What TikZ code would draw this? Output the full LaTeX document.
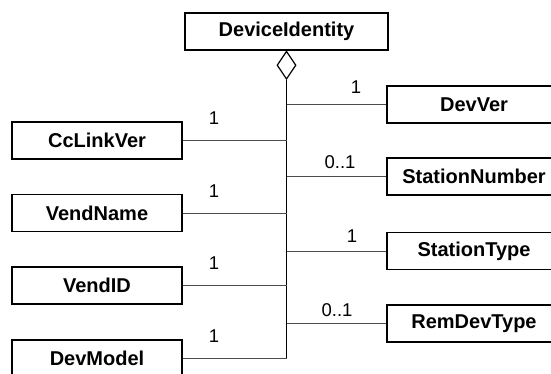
\documentclass[tikz,border=0pt]{standalone}
\usepackage{fontspec}
\setmainfont{Liberation Sans}
\usetikzlibrary{shapes.geometric}
\begin{document}
\begin{tikzpicture}[x=1pt,y=-1pt,
  cls/.style={draw, line width=1.2pt, minimum height=37pt, inner sep=0pt,
    font=\bfseries\fontsize{20}{20}\selectfont},
  lnk/.style={draw=black!70, line width=1pt},
  mult/.style={inner sep=0pt, font=\fontsize{18.5}{18.5}\selectfont}]
\useasboundingbox (0,0) rectangle (551,373);
\clip (0,0) rectangle (551,373);
\node[cls, minimum width=203pt] (di) at (286.5,31.5) {DeviceIdentity};
\node[draw, diamond, line width=1.2pt, minimum width=19pt, minimum height=28pt,
  inner sep=0pt, anchor=north] (dia) at (di.south) {};
% left classes
\node[cls, minimum width=170pt] (cc) at (97,140.5) {CcLinkVer};
\node[cls, minimum width=170pt] (vn) at (97,213) {VendName};
\node[cls, minimum width=170pt] (vi) at (97,285.5) {VendID};
\node[cls, minimum width=170pt] (dm) at (97,358.5) {DevModel};
% right classes
\node[cls, minimum width=174pt] (dv) at (474,104.5) {DevVer};
\node[cls, minimum width=174pt] (sn) at (474,176.5) {StationNumber};
\node[cls, minimum width=174pt] (st) at (474,251) {StationType};
\node[cls, minimum width=174pt] (rd) at (474,323.5) {RemDevType};
% bus
\draw[line width=1.6pt] (dia.south) -- (dia.south |- dm.east);
% connectors
\foreach \n in {cc,vn,vi,dm} {\draw[lnk] (\n.east) -- (\n.east -| dia.south);}
\foreach \n in {dv,sn,st,rd} {\draw[lnk] (\n.west) -- (\n.west -| dia.south);}
% multiplicities
\node[mult] (m1) at (214,118) {1};
\node[mult] (m2) at (214,191) {1};
\node[mult] (m3) at (214,263) {1};
\node[mult] (m4) at (214,336) {1};
\node[mult] (m5) at (356,87) {1};
\node[mult] (m6) at (340,162) {0..1};
\node[mult] (m7) at (352,236) {1};
\node[mult] (m8) at (337,310) {0..1};
\end{tikzpicture}
\end{document}
